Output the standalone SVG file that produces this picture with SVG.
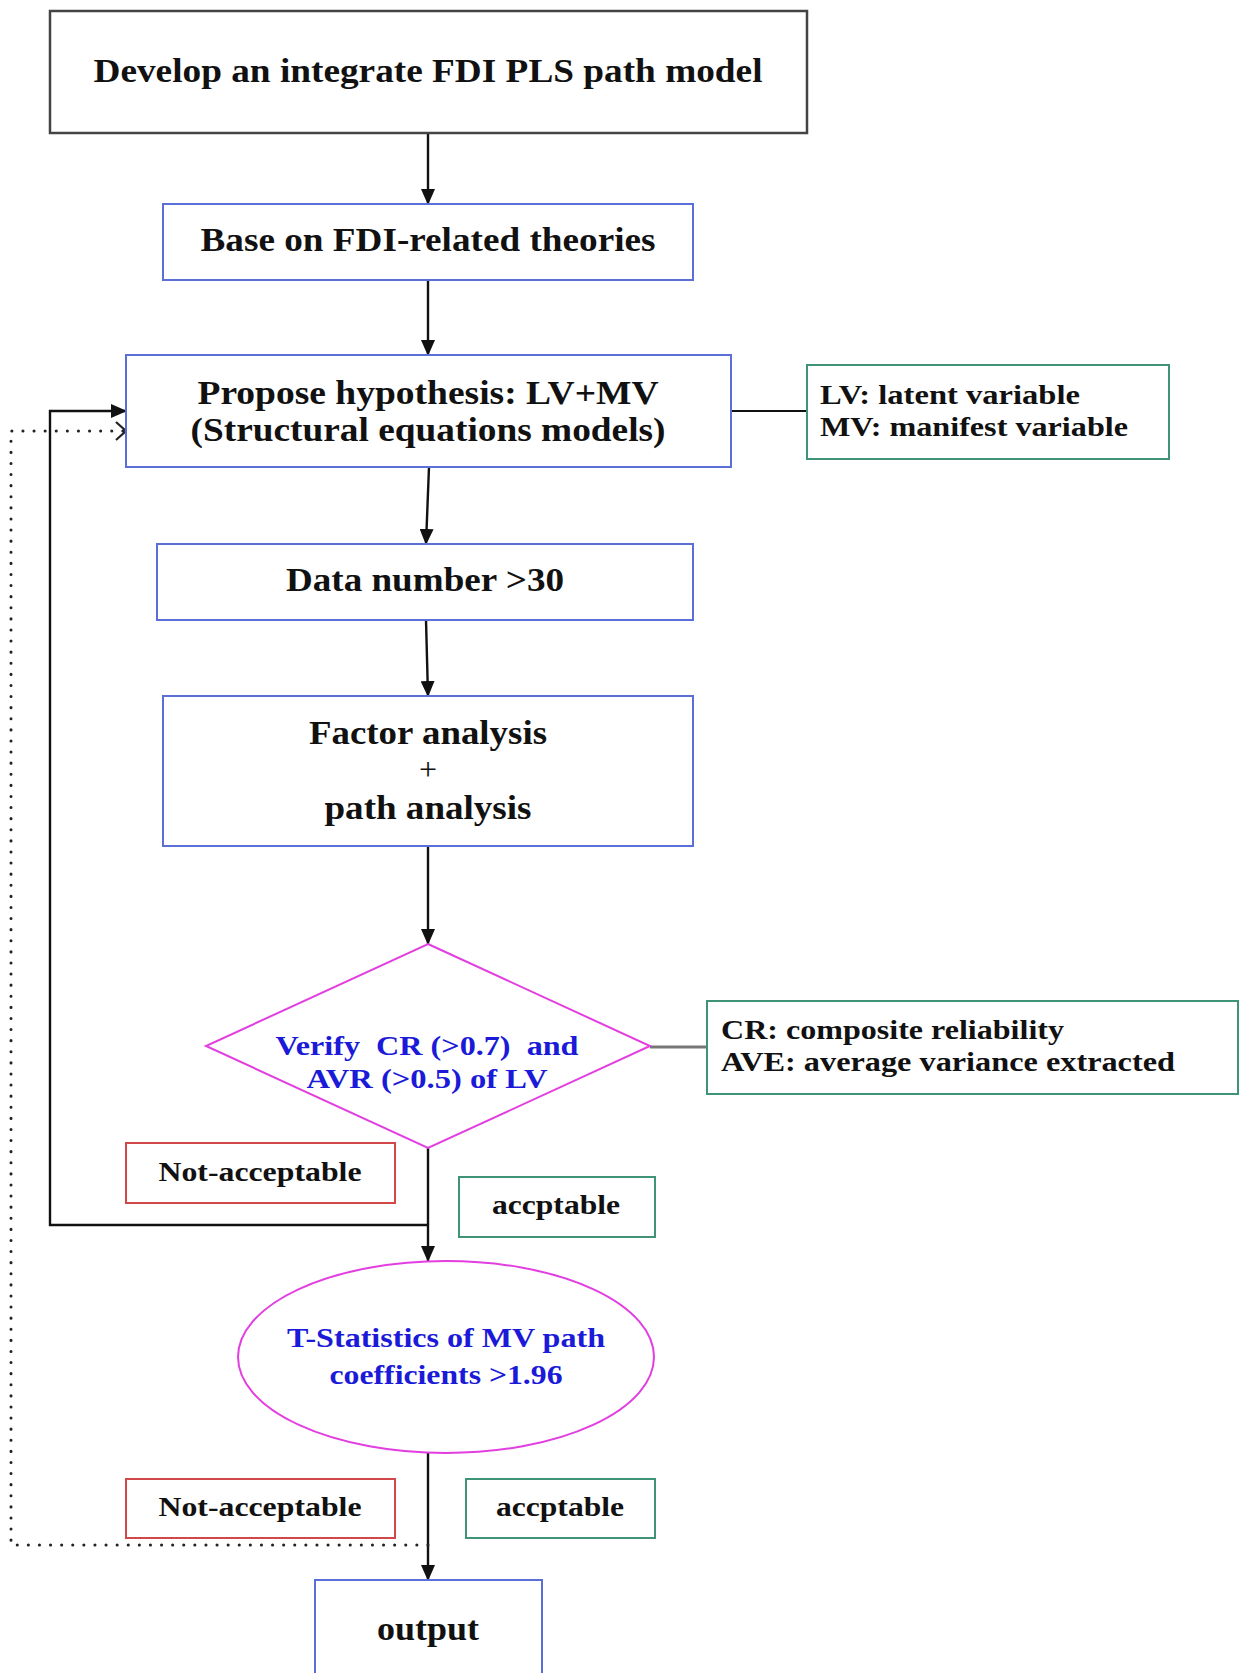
<svg xmlns="http://www.w3.org/2000/svg" width="1243" height="1673" viewBox="0 0 1243 1673">
  <style>
    .t { font-family: "Liberation Serif", "Times New Roman", serif; font-weight: bold; fill: #111; text-anchor: middle; }
    .tl { font-family: "Liberation Serif", "Times New Roman", serif; font-weight: bold; fill: #111; text-anchor: start; }
    .tb { font-family: "Liberation Serif", "Times New Roman", serif; font-weight: bold; fill: #1a1ad8; text-anchor: middle; }
    .blue { fill: #fff; stroke: #5a6fd8; stroke-width: 2; }
    .green { fill: #fff; stroke: #3f9478; stroke-width: 2; }
    .red { fill: #fff; stroke: #d24848; stroke-width: 2; }
    .mag { fill: #fff; stroke: #e23ee0; stroke-width: 2; }
    .edge { fill: none; stroke: #111; stroke-width: 2.4; }
    .dot { fill: none; stroke: #222; stroke-width: 3; stroke-dasharray: 0.1 11; stroke-linecap: round; }
  </style>
  <defs>
    <marker id="arr" markerWidth="16" markerHeight="14" refX="15" refY="7" orient="auto" markerUnits="userSpaceOnUse">
      <path d="M0,0 L16,7 L0,14 Z" fill="#111"/>
    </marker>
  </defs>
  <rect width="1243" height="1673" fill="#fff"/>

  <g id="connectors">
    <line class="edge" x1="428" y1="133" x2="428" y2="204" marker-end="url(#arr)"/>
    <line class="edge" x1="428" y1="280" x2="428" y2="355" marker-end="url(#arr)"/>
    <line class="edge" x1="429" y1="467" x2="426" y2="544" marker-end="url(#arr)"/>
    <line class="edge" x1="426" y1="620" x2="428" y2="696" marker-end="url(#arr)"/>
    <line class="edge" x1="428" y1="846" x2="428" y2="944" marker-end="url(#arr)"/>
    <line class="edge" x1="428" y1="1148" x2="428" y2="1261" marker-end="url(#arr)"/>
    <line class="edge" x1="428" y1="1453" x2="428" y2="1580" marker-end="url(#arr)"/>
    <!-- loop back when CR/AVE fails -->
    <polyline class="edge" points="428,1225 50,1225 50,411 126,411" marker-end="url(#arr)"/>
    <!-- loop back when T-statistics fail -->
    <polyline class="dot" points="428,1545 11,1545 11,431 124,431"/>
    <path d="M116,422 L126,431 L116,440" fill="none" stroke="#222" stroke-width="2.2"/>
    <!-- legend links -->
    <line x1="731" y1="411" x2="807" y2="411" stroke="#111" stroke-width="2"/>
    <line x1="650" y1="1047" x2="707" y2="1047" stroke="#777" stroke-width="3"/>
  </g>

  <g id="model">
    <rect x="50" y="11" width="757" height="122" fill="#fff" stroke="#444" stroke-width="2.5"/>
    <text class="t" x="428" y="82" font-size="33" textLength="669" lengthAdjust="spacingAndGlyphs">Develop an integrate FDI PLS path model</text>
  </g>
  <g id="theories">
    <rect class="blue" x="163" y="204" width="530" height="76"/>
    <text class="t" x="428" y="251" font-size="33" textLength="455" lengthAdjust="spacingAndGlyphs">Base on FDI-related theories</text>
  </g>
  <g id="hypothesis">
    <rect class="blue" x="126" y="355" width="605" height="112"/>
    <text class="t" x="428" y="404" font-size="33" textLength="461" lengthAdjust="spacingAndGlyphs">Propose hypothesis: LV+MV</text>
    <text class="t" x="428" y="441" font-size="33" textLength="475" lengthAdjust="spacingAndGlyphs">(Structural equations models)</text>
  </g>
  <g id="legend-lv">
    <rect class="green" x="807" y="365" width="362" height="94"/>
    <text class="tl" x="820" y="404" font-size="27" textLength="260" lengthAdjust="spacingAndGlyphs">LV: latent variable</text>
    <text class="tl" x="820" y="436" font-size="27" textLength="308" lengthAdjust="spacingAndGlyphs">MV: manifest variable</text>
  </g>
  <g id="data">
    <rect class="blue" x="157" y="544" width="536" height="76"/>
    <text class="t" x="425" y="591" font-size="33" textLength="278" lengthAdjust="spacingAndGlyphs">Data number &gt;30</text>
  </g>
  <g id="analysis">
    <rect class="blue" x="163" y="696" width="530" height="150"/>
    <text class="t" x="428" y="744" font-size="33" textLength="238" lengthAdjust="spacingAndGlyphs">Factor analysis</text>
    <text class="t" x="428" y="780" font-size="32" style="font-weight:normal">+</text>
    <text class="t" x="428" y="819" font-size="33" textLength="207" lengthAdjust="spacingAndGlyphs">path analysis</text>
  </g>
  <g id="verify">
    <polygon class="mag" points="428,944 650,1046 428,1148 206,1046"/>
    <text class="tb" x="427" y="1055" font-size="28" textLength="303" lengthAdjust="spacingAndGlyphs" xml:space="preserve">Verify  CR (&gt;0.7)  and</text>
    <text class="tb" x="427" y="1088" font-size="28" textLength="241" lengthAdjust="spacingAndGlyphs">AVR (&gt;0.5) of LV</text>
  </g>
  <g id="legend-cr">
    <rect class="green" x="707" y="1001" width="531" height="93"/>
    <text class="tl" x="721" y="1039" font-size="27" textLength="343" lengthAdjust="spacingAndGlyphs">CR: composite reliability</text>
    <text class="tl" x="721" y="1071" font-size="27" textLength="454" lengthAdjust="spacingAndGlyphs">AVE: average variance extracted</text>
  </g>
  <g id="reject-1">
    <rect class="red" x="126" y="1143" width="269" height="60"/>
    <text class="t" x="260" y="1181" font-size="28" textLength="203" lengthAdjust="spacingAndGlyphs">Not-acceptable</text>
  </g>
  <g id="accept-1">
    <rect class="green" x="459" y="1177" width="196" height="60"/>
    <text class="t" x="556" y="1214" font-size="28" textLength="128" lengthAdjust="spacingAndGlyphs">accptable</text>
  </g>
  <g id="t-statistics">
    <ellipse class="mag" cx="446" cy="1357" rx="208" ry="96"/>
    <text class="tb" x="446" y="1347" font-size="28" textLength="318" lengthAdjust="spacingAndGlyphs">T-Statistics of MV path</text>
    <text class="tb" x="446" y="1384" font-size="28" textLength="233" lengthAdjust="spacingAndGlyphs">coefficients &gt;1.96</text>
  </g>
  <g id="reject-2">
    <rect class="red" x="126" y="1479" width="269" height="59"/>
    <text class="t" x="260" y="1516" font-size="28" textLength="203" lengthAdjust="spacingAndGlyphs">Not-acceptable</text>
  </g>
  <g id="accept-2">
    <rect class="green" x="466" y="1479" width="189" height="59"/>
    <text class="t" x="560" y="1516" font-size="28" textLength="128" lengthAdjust="spacingAndGlyphs">accptable</text>
  </g>
  <g id="output">
    <rect class="blue" x="315" y="1580" width="227" height="110"/>
    <text class="t" x="428" y="1640" font-size="33" textLength="102" lengthAdjust="spacingAndGlyphs">output</text>
  </g>
</svg>
